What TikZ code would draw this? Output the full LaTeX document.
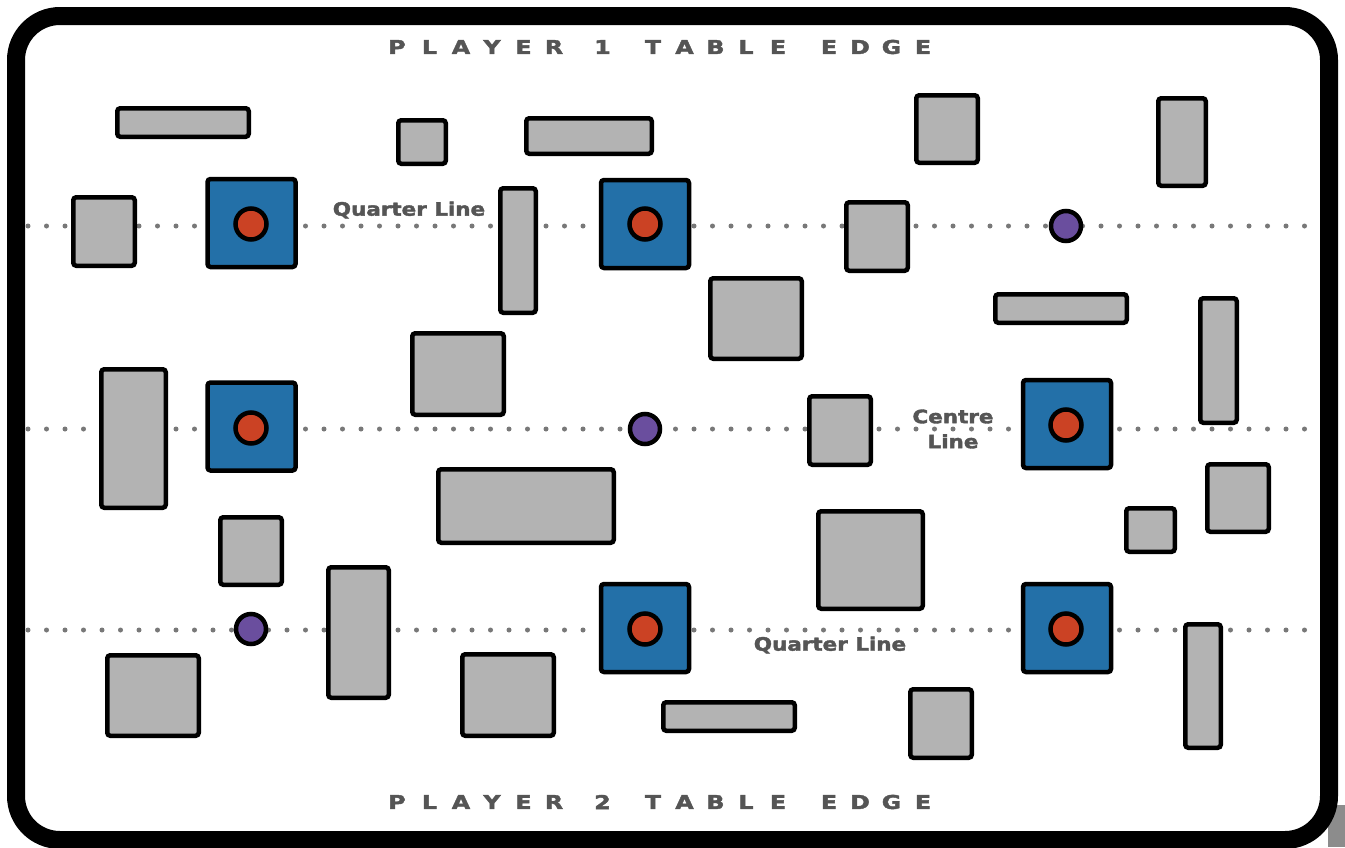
\documentclass[tikz,border=0pt]{standalone}
\usepackage{fontspec}
\setmainfont{DejaVu Sans}
\newfontfamily\heavyfont[FakeBold=2]{DejaVu Sans Bold}
\definecolor{cGray}{RGB}{179,179,179}
\definecolor{cBlue}{RGB}{35,112,168}
\definecolor{cRed}{RGB}{203,66,36}
\definecolor{cPurple}{RGB}{106,78,158}
\definecolor{cText}{RGB}{85,85,85}
\definecolor{cDot}{RGB}{120,120,120}
\definecolor{cShadow}{RGB}{140,140,140}
\begin{document}
\begin{tikzpicture}[x=1pt,y=-1pt,
  obst/.style={draw=black, fill=cGray, line width=4.5pt, rounded corners=3pt, inner sep=0pt, outer sep=0pt},
  objsq/.style={draw=black, fill=cBlue, line width=4.5pt, rounded corners=3pt, minimum size=88pt, inner sep=0pt, outer sep=0pt},
  redmark/.style={circle, draw=black, fill=cRed, line width=4.5pt, minimum size=31pt, inner sep=0pt},
  purplemark/.style={circle, draw=black, fill=cPurple, line width=4.5pt, minimum size=30pt, inner sep=0pt},
  dotline/.style={draw=cDot, line width=5pt, line cap=round, dash pattern=on 0pt off 18.5pt},
  edgeletter/.style={text=cText, font=\fontsize{19}{19}\heavyfont, inner sep=0pt, xscale=1.25},
  linelabel/.style={text=cText, font=\fontsize{18.5}{22}\heavyfont, inner sep=0pt, xscale=1.16, align=center},
  frame/.style={draw=black, line width=18pt, rounded corners=44pt, fill=white}
]
\useasboundingbox (0,0) rectangle (1345,847);
% shadow piece
\fill[cShadow] (1328,805) rectangle (1345,847);
% frame
\draw[frame] (16,16) rectangle (1329,840);
% dotted lines
\coordinate (q1a) at (28,226); \coordinate (q1b) at (1318,226);
\coordinate (ca) at (28,429);  \coordinate (cb) at (1318,429);
\coordinate (q2a) at (28,630); \coordinate (q2b) at (1318,630);
\draw[dotline] (q1a) -- (q1b);
\draw[dotline] (ca) -- (cb);
\draw[dotline] (q2a) -- (q2b);
% obstacles
\foreach \xa/\ya/\xb/\yb [count=\i] in {
  115/106/251/139, 396/118/448/166, 524/116/654/156, 914/93/980/165,
  1156/96/1208/188, 71/195/137/268, 498/186/538/315, 844/200/910/273,
  708/276/804/361, 993/292/1129/325, 1198/296/1239/425, 410/331/506/417,
  99/367/168/510, 807/394/873/467, 436/467/616/545, 218/515/284/587,
  816/509/925/611, 1124/506/1177/554, 1205/462/1271/534, 326/565/391/700,
  105/653/201/738, 460/652/556/738, 661/700/797/733, 908/687/974/760,
  1183/622/1223/750}
  \node[obst, minimum width={\xb-\xa-4.5}, minimum height={\yb-\ya-4.5}] (o\i) at ({(\xa+\xb)/2},{(\ya+\yb)/2}) {};
% objective squares
\foreach \cx/\cy [count=\i] in {251.5/223, 645/224, 251.5/426.5, 1067/424, 645/628, 1067/628}
  \node[objsq] (sq\i) at (\cx,\cy) {};
\foreach \cx/\cy [count=\i] in {251/224, 645/224, 251/428, 1066/425, 645/629, 1066/629}
  \node[redmark] (r\i) at (\cx,\cy) {};
% purple markers
\node[purplemark] (p1) at (1066,226) {};
\node[purplemark] (p2) at (645,429) {};
\node[purplemark] (p3) at (251,629) {};
% labels
\node[linelabel] (lq1) at (409,210) {Quarter Line};
\node[linelabel] (lc) at (953,429) {Centre\\[3pt]Line};
\node[linelabel] (lq2) at (830,645) {Quarter Line};
% table edges
\foreach \c/\x [count=\i] in {P/397, L/429.5, A/461, Y/492, E/523.5, R/554, 1/602.5, T/653, A/684.5, B/715.5, L/746, E/778, E/829, D/860, G/891.5, E/923}
  \node[edgeletter] (ta\i) at (\x,47) {\c};
\foreach \c/\x [count=\i] in {P/397, L/429.5, A/461, Y/492, E/523.5, R/554, 2/602.5, T/653, A/684.5, B/715.5, L/746, E/778, E/829, D/860, G/891.5, E/923}
  \node[edgeletter] (tb\i) at (\x,802) {\c};
\end{tikzpicture}
\end{document}
